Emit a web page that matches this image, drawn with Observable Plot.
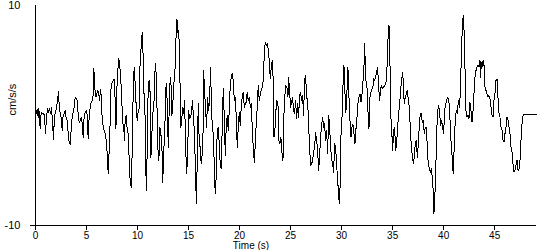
<!DOCTYPE html>
<html><head><meta charset="utf-8">
<script src="https://cdn.jsdelivr.net/npm/d3@7"></script>
<script src="https://cdn.jsdelivr.net/npm/@observablehq/plot@0.6"></script>
<style>
body{margin:0;background:#fff}
svg path, svg line {shape-rendering: crispEdges}
</style>
</head><body><div id="chart"></div>
<script>
// [time (s), acceleration (cm/s/s)]
const samples = [
[0.07,0.45],[0.13,0.15],[0.20,0.52],[0.26,-0.15],[0.33,0.61],[0.39,-0.21],[0.46,-1.21],[0.56,0.30],[0.65,0.15],[0.78,0.21],[0.88,0],[0.98,-1.67],[1.08,-0.15],[1.18,0.61],[1.27,0.30],[1.37,0.61],[1.47,0.15],[1.57,0.70],[1.67,-0.61],[1.76,-2.21],[1.86,0],[1.96,0.30],[2.06,0.76],[2.16,1.36],[2.25,2.21],[2.35,0.45],[2.45,0.15],[2.55,-0.45],[2.61,-1.36],[2.71,0],[2.81,0.15],[2.91,0.45],[3.01,-0.30],[3.10,-0.45],[3.20,-1.52],[3.30,-2.42],[3.40,-2.64],[3.50,-1.21],[3.59,-0.15],[3.69,0.30],[3.79,0.76],[3.89,1.67],[3.99,1.52],[4.08,1.36],[4.18,0.15],[4.28,-0.61],[4.38,-0.45],[4.48,-0.15],[4.58,-0.76],[4.67,-1.97],[4.77,0],[4.87,0.30],[4.97,0.45],[5.07,0],[5.16,-2.06],[5.26,-0.15],[5.36,0.76],[5.46,1.21],[5.56,1.36],[5.65,1.82],[5.72,4.24],[5.82,2.42],[5.92,1.67],[6.01,1.97],[6.11,2.27],[6.21,1.97],[6.27,1.36],[6.37,2.33],[6.47,1.67],[6.54,-0.61],[6.63,-0.91],[6.73,-1.36],[6.83,-1.67],[6.93,-2.27],[7.03,-3.48],[7.12,-5.24],[7.22,-3.18],[7.29,-1.67],[7.35,1.36],[7.42,2.73],[7.52,3.03],[7.61,3.18],[7.71,3.33],[7.81,1.36],[7.88,-1.21],[7.94,0.76],[8.01,3.48],[8.07,4.09],
[8.14,5.15],[8.24,4.85],[8.33,3.48],[8.43,2.27],[8.53,-0.61],[8.63,-0.91],[8.73,-2.27],[8.79,-0.15],[8.89,0],[8.99,-1.36],[9.09,-1.67],[9.18,-3.94],[9.28,-6.06],[9.38,-6.52],[9.48,-3.18],[9.58,2.58],[9.67,4.39],[9.77,2.88],[9.87,0.76],[9.97,-0.45],[10.07,0.45],[10.16,0.61],[10.26,5.30],[10.36,6.21],[10.46,7.58],[10.52,6.97],[10.59,1.97],[10.69,1.97],[10.78,-1.97],[10.85,-6.82],[10.95,-3.18],[11.05,3.03],[11.14,3.18],[11.24,1.97],[11.31,-3.79],[11.41,-1.67],[11.47,0.15],[11.57,0.45],[11.67,2.27],[11.73,4.70],[11.83,3.79],[11.93,-0.15],[11.99,-2.88],[12.09,-4.09],[12.19,-1.06],[12.29,-1.67],[12.39,-2.88],[12.48,-6.06],[12.55,-3.18],[12.65,-2.27],[12.75,1.97],[12.81,2.88],[12.91,1.21],[13.01,-2.88],[13.10,0.45],[13.20,3.48],[13.30,2.58],[13.37,0],[13.46,1.06],[13.56,2.88],[13.66,3.79],[13.76,6.82],[13.86,8.79],[13.95,7.58],[14.02,7.73],[14.12,5.91],[14.22,-1.06],[14.31,-0.76],[14.41,0.76],[14.51,0.15],[14.61,1.36],[14.71,-2.58],[14.80,-5.30],[14.90,-4.09],[15.00,0.45],[15.10,-0.30],[15.20,-0.15],[15.29,0.30],[15.39,1.36],[15.49,-0.45],[15.59,-1.67],[15.69,-5.91],[15.78,-8.03],[15.88,-2.27],[15.95,1.06],[16.05,-2.58],[16.14,-2.88],[16.24,-4.39],[16.34,-3.48],[16.44,-1.06],
[16.47,4.09],[16.57,2.27],[16.67,0.45],[16.77,-1.06],[16.86,1.67],[16.96,0.45],[17.06,1.36],[17.16,4.39],[17.25,0.45],[17.35,-1.36],[17.45,-1.67],[17.55,-6.21],[17.65,-7.12],[17.71,-5.30],[17.81,-1.36],[17.91,-1.06],[18.01,-2.58],[18.10,-4.39],[18.20,-4.85],[18.30,-1.06],[18.40,2.42],[18.50,-0.15],[18.60,-3.64],[18.69,-1.06],[18.79,0],[18.89,-1.36],[18.99,0.45],[19.09,2.88],[19.18,3.48],[19.28,3.79],[19.38,3.18],[19.48,1.36],[19.58,1.67],[19.67,0],[19.77,-2.88],[19.87,-1.06],[19.97,0.30],[20.07,-0.91],[20.16,0.76],[20.26,1.67],[20.36,2.12],[20.46,0.76],[20.56,1.06],[20.65,1.21],[20.75,2.12],[20.85,1.36],[20.95,1.67],[21.05,0.76],[21.14,1.06],[21.24,-1.06],[21.34,-2.88],[21.44,-4.24],[21.54,-2.58],[21.63,-0.76],[21.73,0.76],[21.83,2.73],[21.93,1.36],[22.03,1.97],[22.12,2.27],[22.22,2.58],[22.32,3.18],[22.42,5.61],[22.52,6.67],[22.61,6.36],[22.71,6.52],[22.81,6.06],[22.91,5.00],[23.01,3.33],[23.10,4.39],[23.20,5.00],[23.30,3.18],[23.37,-1.97],[23.46,-1.36],[23.56,0.45],[23.66,1.36],[23.76,1.06],[23.86,-2.27],[23.95,-2.58],[24.05,-1.97],[24.15,-3.33],[24.25,-4.09],[24.35,0.15],[24.44,1.82],[24.54,2.73],[24.64,2.58],[24.74,1.67],
[24.80,3.48],[24.90,2.27],[25.00,0.76],[25.10,1.21],[25.20,1.67],[25.29,0.45],[25.39,0.15],[25.49,1.36],[25.59,-0.30],[25.69,1.06],[25.78,-0.15],[25.88,1.82],[25.98,2.12],[26.08,1.36],[26.18,1.82],[26.27,0],[26.37,3.18],[26.47,3.64],[26.57,1.67],[26.67,1.36],[26.76,-0.61],[26.86,-2.88],[26.96,-4.55],[27.06,-4.39],[27.16,-4.09],[27.25,-3.33],[27.35,-2.88],[27.45,-1.52],[27.55,-2.27],[27.65,-3.18],[27.75,-5.00],[27.84,-3.79],[27.94,-1.97],[28.04,-0.91],[28.14,-0.15],[28.24,-1.06],[28.33,-0.76],[28.43,-2.27],[28.53,-1.36],[28.63,-3.48],[28.73,0],[28.82,-0.91],[28.92,-2.88],[29.02,-3.94],[29.12,-4.39],[29.22,-5.15],[29.31,-2.58],[29.41,-2.88],[29.51,-4.39],[29.61,-5.91],[29.71,-7.12],[29.77,-8.03],[29.84,-6.82],[29.93,-1.97],[30.03,-0.45],[30.13,2.58],[30.23,4.55],[30.33,1.97],[30.42,0.30],[30.52,2.12],[30.62,4.39],[30.72,1.67],[30.82,-0.45],[30.92,-1.97],[31.01,-1.06],[31.11,-0.76],[31.21,-1.67],[31.31,-2.58],[31.41,-1.21],[31.50,-0.30],[31.60,1.06],[31.70,1.67],[31.80,1.97],[31.90,1.21],[31.99,1.82],[32.09,3.03],[32.19,4.39],[32.26,6.52],[32.32,4.55],[32.39,3.18],[32.48,2.73],[32.58,0.45],[32.68,-1.21],[32.78,1.67],[32.88,2.12],[32.97,2.42],[33.07,2.58],
[33.14,3.33],[33.24,3.18],[33.33,3.48],[33.43,3.94],[33.53,4.39],[33.63,2.58],[33.73,1.36],[33.82,2.42],[33.92,2.73],[34.02,2.42],[34.12,2.58],[34.22,2.73],[34.31,2.88],[34.41,3.33],[34.51,5.91],[34.58,7.73],[34.64,8.18],[34.71,7.12],[34.80,0.15],[34.90,-1.06],[35.00,-3.18],[35.10,-1.36],[35.20,-1.06],[35.29,-3.18],[35.39,-2.58],[35.49,-1.06],[35.59,0.15],[35.69,1.06],[35.78,2.27],[35.88,3.18],[35.98,3.94],[36.05,2.88],[36.14,1.06],[36.24,1.67],[36.34,1.97],[36.44,2.27],[36.54,1.36],[36.63,0.76],[36.73,-1.06],[36.83,-2.88],[36.93,-3.64],[37.03,-4.39],[37.12,-3.79],[37.22,-2.58],[37.32,-2.27],[37.42,-3.79],[37.52,-2.58],[37.61,-1.06],[37.71,0.15],[37.81,0.15],[37.91,-0.61],[38.01,-0.45],[38.10,-1.67],[38.20,-1.06],[38.30,-1.06],[38.40,-2.88],[38.50,-4.55],[38.59,-4.70],[38.69,-5.15],[38.79,-4.85],[38.89,-5.61],[38.99,-7.12],[39.05,-8.94],[39.12,-7.73],[39.22,-5.30],[39.31,-1.67],[39.41,0.45],[39.51,0.91],[39.61,0.15],[39.71,-0.91],[39.80,-0.45],[39.90,-1.06],[40.00,-1.67],[40.10,0.45],[40.20,1.06],[40.29,1.36],[40.39,1.67],[40.49,1.52],[40.59,0.45],[40.69,-1.97],[40.78,-2.88],[40.88,-4.70],[40.95,-5.30],[41.05,-2.27],[41.14,-0.45],[41.24,0.45],[41.34,0.15],[41.44,1.36],
[41.57,0.76],[41.67,3.18],[41.76,6.21],[41.86,8.64],[41.93,9.09],[41.99,8.03],[42.09,4.39],[42.19,0.45],[42.29,-0.15],[42.39,0],[42.48,-0.30],[42.58,1.21],[42.68,0.45],[42.78,-0.61],[42.88,0.45],[42.97,1.97],[43.07,3.48],[43.17,4.09],[43.27,4.39],[43.37,4.55],[43.46,4.39],[43.56,5.00],[43.63,3.48],[43.69,4.85],[43.76,4.39],[43.86,5.00],[43.95,4.70],[44.05,2.58],[44.15,2.27],[44.25,1.97],[44.35,1.67],[44.44,1.82],[44.54,1.52],[44.64,0.76],[44.74,0],[44.84,-0.15],[44.93,1.36],[45.03,1.97],[45.13,3.18],[45.23,3.33],[45.33,1.52],[45.43,0.15],[45.52,-0.15],[45.62,-1.06],[45.72,-1.36],[45.82,-2.27],[45.92,-2.42],[46.01,-1.67],[46.11,-1.06],[46.21,-0.15],[46.31,-0.45],[46.41,-1.06],[46.50,-1.67],[46.60,-2.88],[46.70,-3.33],[46.80,-4.39],[46.90,-5.15],[46.99,-5.00],[47.09,-4.55],[47.19,-4.09],[47.29,-5.00],[47.39,-4.85],[47.48,-4.09],[47.58,-2.27],[47.68,-0.76],[47.78,0],[47.88,0.09],[49.08,0.09]
];
const xTicks = [0, 5, 10, 15, 20, 25, 30, 35, 40, 45];
const yTicks = [-10, 10];
const xLabel = "Time (s)";
const yLabel = "cm/s/s";

const data = samples.map(([t, a]) => ({t, a}));

const chart = Plot.plot({
  width: 550, height: 250,
  marginLeft: 35, marginRight: 14, marginTop: 5, marginBottom: 25,
  style: {fontFamily: "'Liberation Sans', Arial, sans-serif", fontSize: "11px", background: "#fff", color: "#000"},
  x: {domain: [0, 49.1]},
  y: {domain: [-10, 10]},
  marks: [
    Plot.axisX({ticks: xTicks, tickSize: 5, tickPadding: 1, fontSize: 10, label: null, tickFormat: d => String(d)}),
    Plot.axisY({ticks: [-10], tickSize: 5, label: null, tickFormat: () => ""}),
    Plot.axisY({ticks: yTicks, tickSize: 0, tickPadding: 15, label: null, tickFormat: d => String(d)}),
    Plot.ruleX([0], {stroke: "#000"}),
    Plot.ruleY([-10], {stroke: "#000"}),
    Plot.line(data, {x: "t", y: "a", stroke: "#000", strokeWidth: 1}),
    Plot.text([xLabel], {text: d => d, frameAnchor: "bottom", dy: 16, dx: -35, fontSize: 10, lineAnchor: "top", fill: "#000"}),
    Plot.text([yLabel], {text: d => d, frameAnchor: "left", dx: -23, rotate: -90, fill: "#000"})
  ]
});
document.getElementById("chart").appendChild(chart);
</script>
</body></html>
